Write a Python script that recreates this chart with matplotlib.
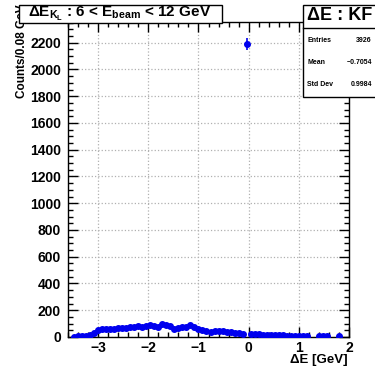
import numpy as np
import matplotlib
matplotlib.use("Agg")
import matplotlib.pyplot as plt
from matplotlib.patches import Rectangle
from matplotlib.ticker import MultipleLocator, FuncFormatter

plt.rcParams['font.family'] = ['Liberation Sans', 'DejaVu Sans']
plt.rcParams['font.weight'] = 'bold'
plt.rcParams['mathtext.fontset'] = 'custom'
plt.rcParams['mathtext.rm'] = 'Liberation Sans:bold'
plt.rcParams['mathtext.it'] = 'Liberation Sans:bold'
plt.rcParams['mathtext.bf'] = 'Liberation Sans:bold'

# histogram: 70 bins of 0.08 GeV from -3.6 to 2.0
bin_lo = -3.6
bin_w = 0.08
counts = [0, 3, 5, 6, 8, 12, 28, 55, 60, 62,
          63, 62, 65, 68, 70, 72, 78, 80, 72, 82,
          86, 85, 76, 98, 92, 80, 62, 70, 72, 76,
          88, 75, 60, 55, 45, 40, 42, 44, 42, 40,
          38, 32, 28, 25, 2190, 24, 22, 20, 18, 17,
          15, 14, 12, 12, 10, 10, 9, 8, 7, 6,
          0, 0, 5, 5, 5, 0, 0, 4, 0, 0]
stats_names = ["Entries", "Mean", "Std Dev"]
stats_vals = ["3926", "\u22120.7054", "0.9984"]

counts = np.array(counts, dtype=float)
centers = bin_lo + bin_w * (np.arange(len(counts)) + 0.5)
keep = counts > 0

fig = plt.figure(figsize=(3.75, 3.67), dpi=100)
W, H = 375, 367
ax = fig.add_axes([68 / W, 1 - 337 / H, (349 - 68) / W, (337 - 22) / H])

ax.errorbar(centers[keep], counts[keep], yerr=np.sqrt(counts[keep]),
            fmt='o', color='#0000ee', ms=4.0, elinewidth=1.2, capsize=0, zorder=3)

ax.set_xlim(-3.6, 2.0)
ax.set_ylim(0, 2355)
ax.xaxis.set_major_locator(MultipleLocator(1))
ax.xaxis.set_minor_locator(MultipleLocator(0.2))
ax.yaxis.set_major_locator(MultipleLocator(200))
ax.yaxis.set_minor_locator(MultipleLocator(50))
ax.tick_params(which='both', direction='in', top=True, right=True, width=1)
ax.tick_params(which='major', length=7.5, labelsize=10)
ax.tick_params(axis='y', which='major', pad=5)
ax.tick_params(axis='x', which='major', pad=3)
ax.tick_params(which='minor', length=3.8)
ax.grid(True, which='major', linestyle=':', color='#b0b0b0', linewidth=0.9)
for s in ax.spines.values():
    s.set_linewidth(1)
ax.xaxis.set_major_formatter(FuncFormatter(lambda v, p: f"{v:g}".replace('-', '\u2212')))
ax.yaxis.set_major_formatter(FuncFormatter(lambda v, p: f"{v:g}"))

fig.text(348 / W, 1 - 360 / H, "\u0394E [GeV]", ha='right', va='center', fontsize=9.5)
fig.text(22 / W, 1 - 4 / H, "Counts/0.08 GeV", rotation=90, ha='center', va='top',
         fontsize=8.5, zorder=5)

# title box
fig.patches.append(Rectangle((19 / W, 1 - 23 / H), (222 - 19) / W, 18 / H,
                             transform=fig.transFigure, facecolor='white',
                             edgecolor='black', linewidth=1, zorder=10))
fig.text(120 / W, 1 - 14 / H, r"$\Delta E_{K_L}$ : 6 < E$_{beam}$ < 12 GeV",
         ha='center', va='center', fontsize=11, zorder=11)

# stats box
fig.patches.append(Rectangle((303 / W, 1 - 97 / H), 80 / W, 92 / H,
                             transform=fig.transFigure, facecolor='white',
                             edgecolor='black', linewidth=1, zorder=10))
fig.lines.append(plt.Line2D([303 / W, 1], [1 - 28 / H, 1 - 28 / H],
                            transform=fig.transFigure, color='black', lw=1, zorder=11))
fig.text(340 / W, 1 - 16 / H, "\u0394E : KF", ha='center', va='center', fontsize=13, zorder=11)
for i, (n, v) in enumerate(zip(stats_names, stats_vals)):
    y = 1 - (40 + 22 * i) / H
    fig.text(307 / W, y, n, ha='left', va='center', fontsize=5, zorder=11)
    fig.text(372 / W, y, v, ha='right', va='center', fontsize=5, zorder=11)

fig.savefig("out.png", dpi=100)
